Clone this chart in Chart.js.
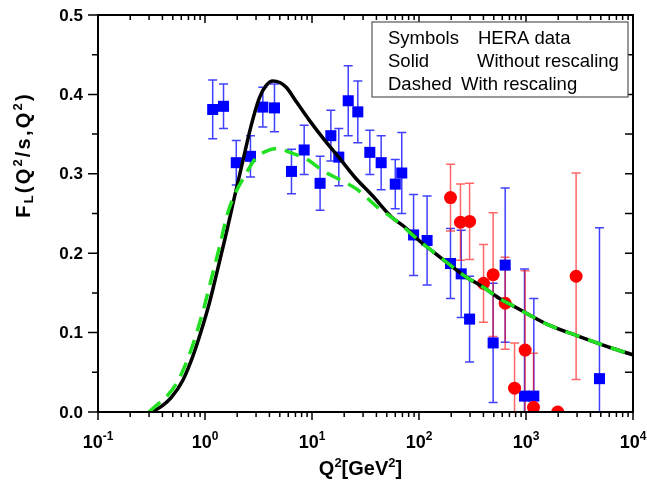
<!DOCTYPE html>
<html>
<head>
<meta charset="utf-8">
<script src="https://cdn.jsdelivr.net/npm/chart.js@4.4.1/dist/chart.umd.min.js"></script>
<style>
  html, body { margin: 0; padding: 0; background: #fff; }
</style>
</head>
<body>
<canvas id="graficaFL" width="647" height="481"></canvas>
<script>
// HERA data, blue squares
const heraQ2 = [1.18, 1.49, 1.96, 2.66, 3.47, 4.46, 6.43, 8.45, 11.9, 15.0, 17.8, 21.8, 26.8, 34.7, 44.3, 60, 69,
                89, 119, 197, 248, 297, 493, 639, 968, 1183, 4860];
const heraFL = [0.381, 0.385, 0.314, 0.322, 0.384, 0.383, 0.303, 0.330, 0.288, 0.348, 0.321, 0.392, 0.378, 0.327, 0.314, 0.287, 0.301,
                0.223, 0.216, 0.187, 0.174, 0.117, 0.087, 0.185, 0.020, 0.020, 0.042];
const heraErr = [0.037, 0.028, 0.028, 0.026, 0.025, 0.030, 0.028, 0.031, 0.034, 0.032, 0.036, 0.044, 0.039, 0.028, 0.034, 0.031, 0.051,
                 0.051, 0.056, 0.044, 0.055, 0.054, 0.075, 0.097, 0.160, 0.123, 0.190];

// HERA data, red circles
const h1Q2 = [197, 244, 297, 401, 493, 639, 782, 982, 1175, 1980, 2940];
const h1FL = [0.270, 0.239, 0.240, 0.162, 0.173, 0.137, 0.030, 0.078, 0.006, 0.000, 0.171];
const h1Err = [0.042, 0.048, 0.048, 0.049, 0.078, 0.058, 0.057, 0.100, 0.068, 0.000, 0.130];

// solid curve (without rescaling)
const solidQ2 = [0.32, 0.40, 0.483, 0.621, 0.769, 0.921, 1.102, 1.309, 1.555, 1.866, 2.256, 2.703, 3.23, 3.72, 4.3, 5.0, 5.74, 7.2, 9.5, 13, 18, 25, 37, 55, 75,
                 100, 135, 200, 276, 400, 565, 800, 1080, 1600, 3160, 6500, 10000];
const solidFL = [0.000, 0.008, 0.018, 0.040, 0.070, 0.102, 0.138, 0.179, 0.221, 0.268, 0.316, 0.361, 0.396, 0.411, 0.417, 0.415, 0.409, 0.390, 0.367, 0.343, 0.320, 0.296, 0.272, 0.246, 0.232,
                 0.216, 0.202, 0.184, 0.170, 0.157, 0.143, 0.132, 0.122, 0.110, 0.095, 0.080, 0.072];

// dashed curve (with rescaling)
const dashedQ2 = [0.30, 0.542, 0.758, 0.962, 1.158, 1.366, 1.66, 2.51, 3.0, 4.0, 4.8, 6.2, 8.8, 12.6, 18.5, 26, 40, 61,
                  100, 135, 200, 276, 400, 565, 800, 1080, 1600, 3160, 6500, 10000];
const dashedFL = [0.000, 0.036, 0.082, 0.128, 0.170, 0.208, 0.254, 0.304, 0.320, 0.330, 0.332, 0.327, 0.319, 0.304, 0.292, 0.281, 0.259, 0.241,
                  0.216, 0.202, 0.184, 0.170, 0.157, 0.143, 0.132, 0.122, 0.110, 0.095, 0.080, 0.072];

// ticks
const xTickExp = ['-1', '0', '1', '2', '3', '4'];
const yTickLabels = ['0.0', '0.1', '0.2', '0.3', '0.4', '0.5'];

const legendLeft = ['Symbols', 'Solid', 'Dashed'];
const legendRight = ['HERA data', 'Without rescaling', 'With rescaling'];

const FONT = "'Liberation Sans', Arial, sans-serif";

function toPoints(xs, ys) {
    return xs.map((x, i) => ({ x: x, y: ys[i] }));
}

// draws text pieces with superscript / subscript
function drawRich(ctx, parts, x, y, size, spacing) {
    const small = Math.round(size * 0.65);
    ctx.letterSpacing = (spacing || 0) + 'px';
    let total = 0;
    parts.forEach(p => {
        ctx.font = 'bold ' + (p.s ? small : size) + 'px ' + FONT;
        p.w = ctx.measureText(p.t).width;
        total += p.w;
    });
    let cx = x - total / 2;
    ctx.textAlign = 'left';
    ctx.textBaseline = 'alphabetic';
    parts.forEach(p => {
        ctx.font = 'bold ' + (p.s ? small : size) + 'px ' + FONT;
        let dy = 0;
        if (p.s === 'sup') dy = -size * 0.42;
        if (p.s === 'sub') dy = size * 0.15;
        ctx.fillText(p.t, cx, y + dy);
        cx += p.w;
    });
    ctx.letterSpacing = '0px';
}

const errorBars = {
    id: 'errorBars',
    beforeDatasetsDraw(chart) {
        const ctx = chart.ctx, a = chart.chartArea;
        const xs = chart.scales.x, ys = chart.scales.y;
        ctx.save();
        ctx.beginPath();
        ctx.rect(a.left, a.top, a.right - a.left, a.bottom - a.top);
        ctx.clip();
        const bars = (qx, fy, err, color) => {
            ctx.strokeStyle = color;
            ctx.lineWidth = 1.5;
            qx.forEach((q, i) => {
                if (!err[i]) return;
                const px = xs.getPixelForValue(q);
                const top = ys.getPixelForValue(fy[i] + err[i]);
                const bot = ys.getPixelForValue(fy[i] - err[i]);
                ctx.beginPath();
                ctx.moveTo(px, top); ctx.lineTo(px, bot);
                ctx.moveTo(px - 4.5, top); ctx.lineTo(px + 4.5, top);
                ctx.moveTo(px - 4.5, bot); ctx.lineTo(px + 4.5, bot);
                ctx.stroke();
            });
        };
        bars(heraQ2, heraFL, heraErr, 'rgba(0,0,255,0.75)');
        bars(h1Q2, h1FL, h1Err, 'rgba(255,0,0,0.6)');
        ctx.restore();
    }
};

const frameAxes = {
    id: 'frameAxes',
    afterDraw(chart) {
        const ctx = chart.ctx, a = chart.chartArea;
        const xs = chart.scales.x, ys = chart.scales.y;
        ctx.save();
        ctx.strokeStyle = '#000';
        ctx.fillStyle = '#000';

        // ticks
        ctx.lineWidth = 1.5;
        ctx.beginPath();
        for (let e = -1; e <= 4; e++) {
            for (let m = 1; m <= 9; m++) {
                if (e === 4 && m > 1) break;
                const px = xs.getPixelForValue(m * Math.pow(10, e));
                const len = m === 1 ? 8 : 5;
                ctx.moveTo(px, a.bottom); ctx.lineTo(px, a.bottom + len);
                ctx.moveTo(px, a.top); ctx.lineTo(px, a.top + len);
            }
        }
        for (let i = 0; i <= 10; i++) {
            const py = ys.getPixelForValue(i * 0.05);
            const len = i % 2 === 0 ? 10 : 6;
            ctx.moveTo(a.left, py); ctx.lineTo(a.left - len, py);
            ctx.moveTo(a.right, py); ctx.lineTo(a.right - 8, py);
        }
        ctx.stroke();

        // frame
        ctx.lineWidth = 2;
        ctx.strokeRect(a.left, a.top, a.right - a.left, a.bottom - a.top);

        // y tick labels
        ctx.font = 'bold 17px ' + FONT;
        ctx.textAlign = 'right';
        ctx.textBaseline = 'middle';
        yTickLabels.forEach(t => {
            ctx.fillText(t, a.left - 15, ys.getPixelForValue(parseFloat(t)) + 1);
        });

        // x tick labels
        xTickExp.forEach(ex => {
            const px = xs.getPixelForValue(Math.pow(10, parseInt(ex)));
            drawRich(ctx, [{ t: '10' }, { t: ex, s: 'sup' }], px, a.bottom + 36, 18);
        });

        // axis titles
        drawRich(ctx, [{ t: 'Q' }, { t: '2', s: 'sup' }, { t: '[GeV' }, { t: '2', s: 'sup' }, { t: ']' }],
                 (a.left + a.right) / 2 - 5, 475, 20);
        ctx.save();
        ctx.translate(30, 155);
        ctx.rotate(-Math.PI / 2);
        drawRich(ctx, [{ t: 'F' }, { t: 'L', s: 'sub' }, { t: '(Q' }, { t: '2', s: 'sup' }, { t: '/s,Q' }, { t: '2', s: 'sup' }, { t: ')' }],
                 0, 0, 20, 2.2);
        ctx.restore();

        // legend box
        ctx.fillStyle = '#fff';
        ctx.fillRect(372, 22, 256, 75);
        ctx.strokeStyle = '#555';
        ctx.lineWidth = 1.2;
        ctx.strokeRect(372, 22, 256, 75);
        ctx.fillStyle = '#000';
        ctx.font = '18.5px ' + FONT;
        ctx.textAlign = 'left';
        ctx.textBaseline = 'alphabetic';
        const rightX = [478, 477, 461];
        legendLeft.forEach((t, i) => {
            ctx.fillText(t, 388, 43.5 + i * 23);
            ctx.fillText(legendRight[i], rightX[i], 43.5 + i * 23);
        });
        ctx.restore();
    }
};

const ctx = document.getElementById('graficaFL').getContext('2d');
const grafica = new Chart(ctx, {
    type: 'line',
    data: {
        datasets: [
            {
                label: 'HERA data',
                data: toPoints(heraQ2, heraFL),
                showLine: false,
                pointStyle: 'rect',
                pointRadius: 7.8,
                pointBackgroundColor: '#0000ff',
                pointBorderWidth: 0,
                clip: 0,
                order: 3
            },
            {
                label: 'HERA data (red)',
                data: toPoints(h1Q2, h1FL),
                showLine: false,
                pointStyle: 'circle',
                pointRadius: 6.5,
                pointBackgroundColor: '#ff0000',
                pointBorderWidth: 0,
                clip: 0,
                order: 2
            },
            {
                label: 'Without rescaling',
                data: toPoints(solidQ2, solidFL),
                borderColor: '#000',
                borderWidth: 3.5,
                pointRadius: 0,
                cubicInterpolationMode: 'monotone',
                clip: 0,
                order: 1
            },
            {
                label: 'With rescaling',
                data: toPoints(dashedQ2, dashedFL),
                borderColor: '#22e022',
                borderWidth: 3.5,
                borderDash: [15, 9],
                pointRadius: 0,
                cubicInterpolationMode: 'monotone',
                clip: 0,
                order: 0
            }
        ]
    },
    options: {
        responsive: false,
        animation: false,
        layout: { padding: { left: 98, right: 14, top: 15, bottom: 69 } },
        plugins: {
            legend: { display: false },
            tooltip: { enabled: false }
        },
        scales: {
            x: { type: 'logarithmic', min: 0.1, max: 10000, display: false },
            y: { type: 'linear', min: 0, max: 0.5, display: false }
        }
    },
    plugins: [errorBars, frameAxes]
});
</script>
</body>
</html>
